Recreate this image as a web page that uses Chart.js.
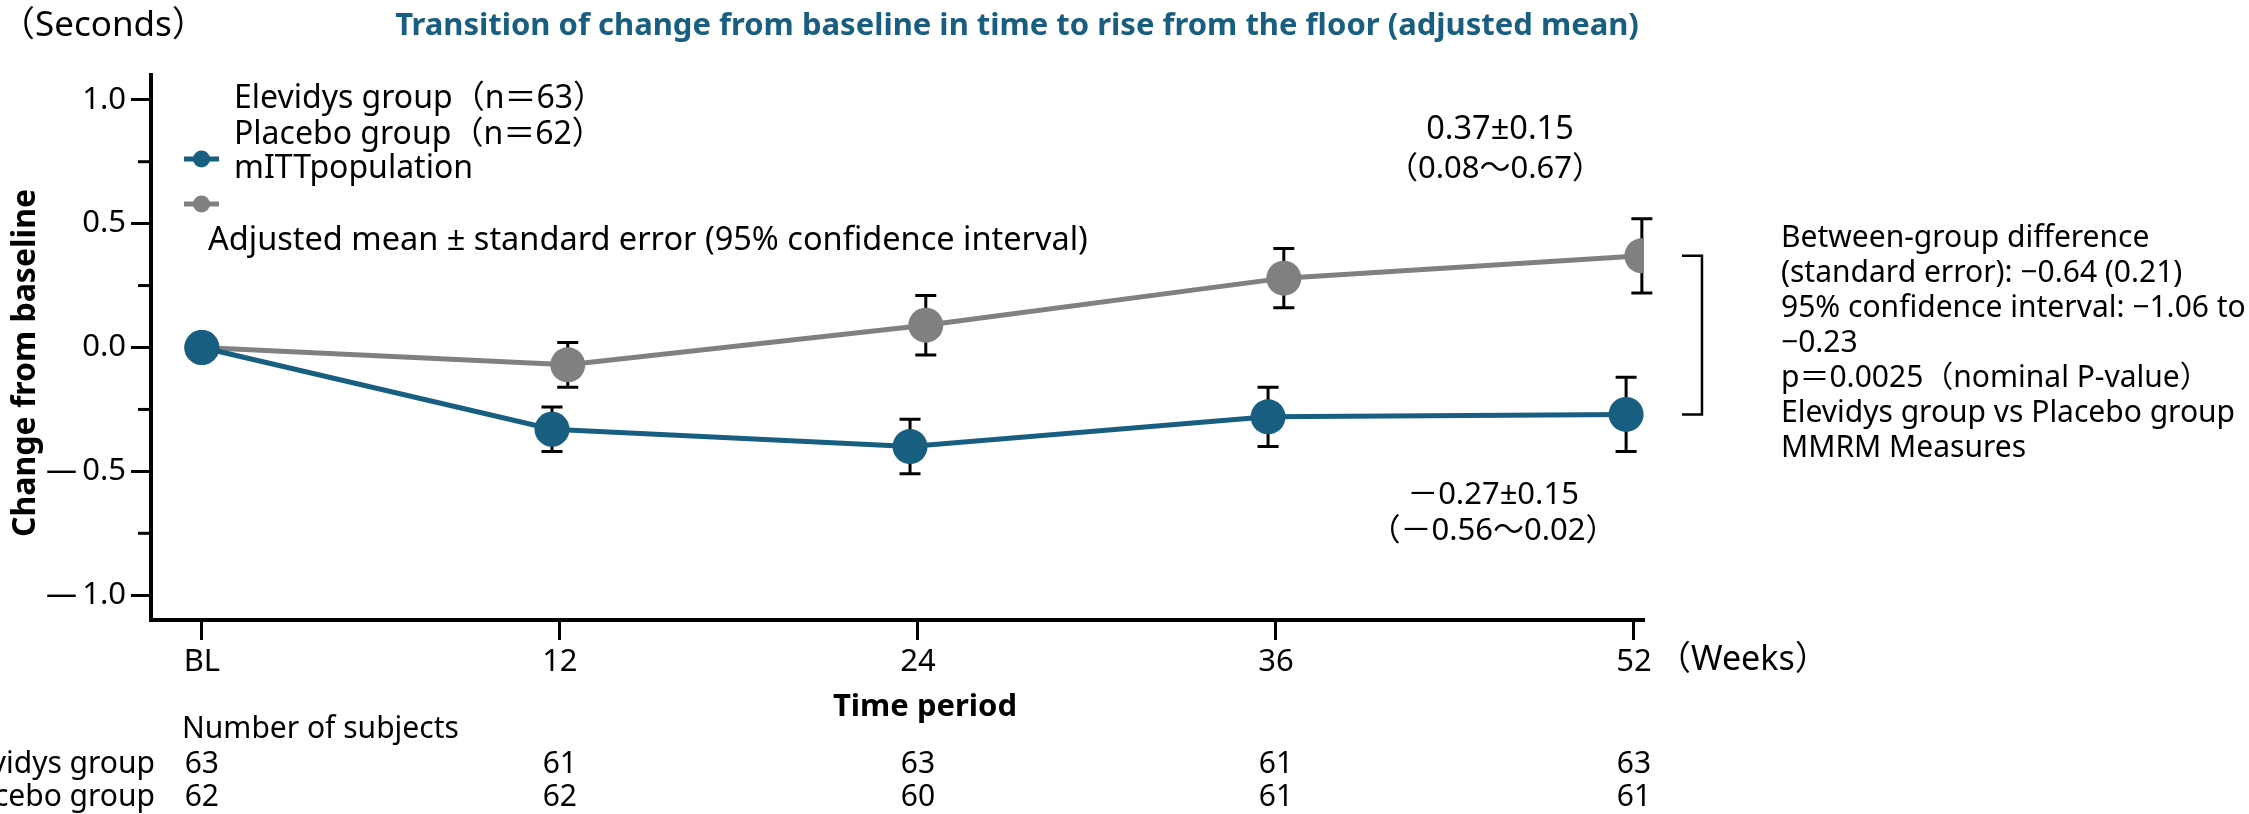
<!DOCTYPE html>
<html><head><meta charset="utf-8">
<script src="https://cdn.jsdelivr.net/npm/chart.js@4/dist/chart.umd.min.js"></script>
<style>html,body{margin:0;padding:0;background:#fff;overflow:hidden}#wrap{width:2249px;height:814px;position:relative}canvas{display:block}</style>
</head><body><div id="wrap"><canvas id="c" width="2249" height="814"></canvas></div>
<script>
// ---- data ----
const categories = ['BL', '12', '24', '36', '52'];
const elevidysMean = [0, -0.33, -0.40, -0.28, -0.27];
const elevidysSE = [0, 0.09, 0.11, 0.12, 0.15];
const placeboMean = [0, -0.07, 0.09, 0.28, 0.37];
const placeboSE = [0, 0.09, 0.12, 0.12, 0.15];
const elevidysN = [63, 61, 63, 61, 63];
const placeboN = [62, 62, 60, 61, 61];
const yMajorTicks = [-1.0, -0.5, 0, 0.5, 1.0];
const yMinorTicks = [-0.75, -0.25, 0.25, 0.75];
const legendLabels = ['Elevidys group（n＝63）', 'Placebo group（n＝62）', 'mITTpopulation'];
const errorNote = 'Adjusted mean ± standard error (95% confidence interval)';
const elevidysAnno = ['－0.27±0.15', '（－0.56〜0.02）'];
const placeboAnno = ['0.37±0.15', '（0.08〜0.67）'];
const diffText = ['Between-group difference', '(standard error): −0.64 (0.21)', '95% confidence interval: −1.06 to', '−0.23', 'p＝0.0025（nominal P-value）', 'Elevidys group vs Placebo group', 'MMRM Measures'];
const rowLabels = ['Elevidys group', 'Placebo group'];

// ---- styles ----
const TEAL = '#175e80';
const GRAY = '#808080';
const FONT = '"Noto Sans", "Noto Sans CJK JP", sans-serif';
const DODGE = 0.022;

function pts(mean, off) { return mean.map((v, i) => ({ x: i === 0 ? i : i + off, y: v })); }
function fmtY(v) { return v < 0 ? '—\u2009' + Math.abs(v).toFixed(1) : v.toFixed(1); }

const errorBars = {
  id: 'errorBars',
  beforeDatasetsDraw(chart) {
    const ctx = chart.ctx, xs = chart.scales.x, ys = chart.scales.y;
    ctx.save();
    ctx.strokeStyle = '#000'; ctx.lineWidth = 3;
    chart.data.datasets.forEach(ds => {
      ds.data.forEach((p, i) => {
        const se = ds.se[i]; if (!se) return;
        const x = xs.getPixelForValue(p.x);
        const yt = ys.getPixelForValue(p.y + se), yb = ys.getPixelForValue(p.y - se);
        ctx.beginPath();
        ctx.moveTo(x, yt); ctx.lineTo(x, yb);
        ctx.moveTo(x - 10.5, yt); ctx.lineTo(x + 10.5, yt);
        ctx.moveTo(x - 10.5, yb); ctx.lineTo(x + 10.5, yb);
        ctx.stroke();
      });
    });
    ctx.restore();
  }
};

const decor = {
  id: 'decor',
  afterDraw(chart) {
    const ctx = chart.ctx, xs = chart.scales.x, ys = chart.scales.y;
    const area = chart.chartArea;
    ctx.save();
    // minor y ticks
    ctx.strokeStyle = '#000'; ctx.lineWidth = 3;
    yMinorTicks.forEach(v => {
      const y = ys.getPixelForValue(v);
      ctx.beginPath(); ctx.moveTo(area.left - 13, y); ctx.lineTo(area.left, y); ctx.stroke();
    });
    // bracket between 52-week means
    const last = categories.length - 1;
    const bx = xs.getPixelForValue(last) + 48;
    const y1 = ys.getPixelForValue(placeboMean[last]);
    const y2 = ys.getPixelForValue(elevidysMean[last]);
    ctx.lineWidth = 2.5;
    ctx.beginPath();
    ctx.moveTo(bx, y1); ctx.lineTo(bx + 20, y1); ctx.lineTo(bx + 20, y2); ctx.lineTo(bx, y2);
    ctx.stroke();

    ctx.textBaseline = 'middle';
    // title
    ctx.fillStyle = TEAL; ctx.font = 'bold 31px ' + FONT; ctx.textAlign = 'center';
    ctx.fillText('Transition of change from baseline in time to rise from the floor (adjusted mean)', 1017, 26);
    ctx.fillStyle = '#000'; ctx.font = '35px ' + FONT; ctx.textAlign = 'left';
    ctx.fillText('（Seconds）', 0, 26);
    // y axis title
    ctx.save();
    ctx.translate(26, 363); ctx.rotate(-Math.PI / 2);
    ctx.font = 'bold 32px ' + FONT; ctx.textAlign = 'center';
    ctx.fillText('Change from baseline', 0, 0);
    ctx.restore();
    // legend
    ctx.font = '32px ' + FONT; ctx.textAlign = 'left';
    const legY = [99, 135, 169];
    legendLabels.forEach((t, i) => ctx.fillText(t, 234, legY[i]));
    [[TEAL, 159], [GRAY, 204]].forEach(([c, y]) => {
      ctx.strokeStyle = c; ctx.fillStyle = c; ctx.lineWidth = 5;
      ctx.beginPath(); ctx.moveTo(184, y); ctx.lineTo(219, y); ctx.stroke();
      ctx.beginPath(); ctx.arc(201.5, y, 8.5, 0, Math.PI * 2); ctx.fill();
    });
    ctx.fillStyle = '#000';
    ctx.font = '32.5px ' + FONT;
    ctx.fillText(errorNote, 208, 241);
    // annotations
    ctx.textAlign = 'center';
    ctx.font = '32.5px ' + FONT;
    ctx.fillText(placeboAnno[0], 1500, 130);
    ctx.font = '31px ' + FONT;
    ctx.fillText(placeboAnno[1], 1495, 169);
    ctx.fillText(elevidysAnno[0], 1493, 495);
    ctx.fillText(elevidysAnno[1], 1493, 531);
    // right text block
    ctx.font = '30px ' + FONT; ctx.textAlign = 'left';
    diffText.forEach((t, i) => ctx.fillText(t, 1781, 238 + i * 35));
    // weeks + time period
    ctx.font = '34px ' + FONT;
    ctx.fillText('（Weeks）', 1657, 660);
    ctx.font = 'bold 31px ' + FONT; ctx.textAlign = 'center';
    ctx.fillText('Time period', 925, 707);
    // subjects table
    ctx.font = '30px ' + FONT; ctx.textAlign = 'left';
    ctx.fillText('Number of subjects', 182, 729);
    ctx.textAlign = 'right';
    ctx.fillText(rowLabels[0], 155, 764);
    ctx.fillText(rowLabels[1], 155, 797);
    ctx.textAlign = 'center';
    categories.forEach((c, i) => {
      const x = xs.getPixelForValue(i);
      ctx.fillText(String(elevidysN[i]), x, 764);
      ctx.fillText(String(placeboN[i]), x, 797);
    });
    ctx.restore();
  }
};

new Chart(document.getElementById('c'), {
  type: 'line',
  data: {
    datasets: [
      { label: 'Elevidys group', data: pts(elevidysMean, -DODGE), se: elevidysSE,
        borderColor: TEAL, backgroundColor: TEAL, borderWidth: 5,
        pointRadius: 17.5, pointHoverRadius: 17.5, pointBorderWidth: 0, tension: 0 },
      { label: 'Placebo group', data: pts(placeboMean, DODGE), se: placeboSE,
        borderColor: GRAY, backgroundColor: GRAY, borderWidth: 5,
        pointRadius: 17.5, pointHoverRadius: 17.5, pointBorderWidth: 0, tension: 0 }
    ]
  },
  options: {
    responsive: false, animation: false, devicePixelRatio: 1,
    layout: { padding: { left: 0, top: 75, right: 605, bottom: 114 } },
    plugins: { legend: { display: false }, tooltip: { enabled: false }, title: { display: false } },
    scales: {
      x: {
        type: 'linear', min: -0.142, max: 4.028,
        afterBuildTicks: s => { s.ticks = categories.map((c, i) => ({ value: i })); },
        afterFit: s => { s.height = 80; },
        ticks: { callback: v => categories[v] ?? '', color: '#000', font: { family: FONT, size: 31 }, padding: 4, maxRotation: 0, autoSkip: false },
        grid: { display: true, drawOnChartArea: false, drawTicks: true, tickLength: 20, tickWidth: 3, tickColor: '#000' },
        border: { display: true, color: '#000', width: 4 }
      },
      y: {
        type: 'linear', min: -1.1, max: 1.1,
        afterBuildTicks: s => { s.ticks = yMajorTicks.map(v => ({ value: v })); },
        afterFit: s => { s.width = 151; },
        ticks: { callback: v => fmtY(v), color: '#000', font: { family: FONT, size: 31 }, padding: 5 },
        grid: { display: true, drawOnChartArea: false, drawTicks: true, tickLength: 20, tickWidth: 3, tickColor: '#000' },
        border: { display: true, color: '#000', width: 4 }
      }
    }
  },
  plugins: [errorBars, decor]
});
</script></body></html>
